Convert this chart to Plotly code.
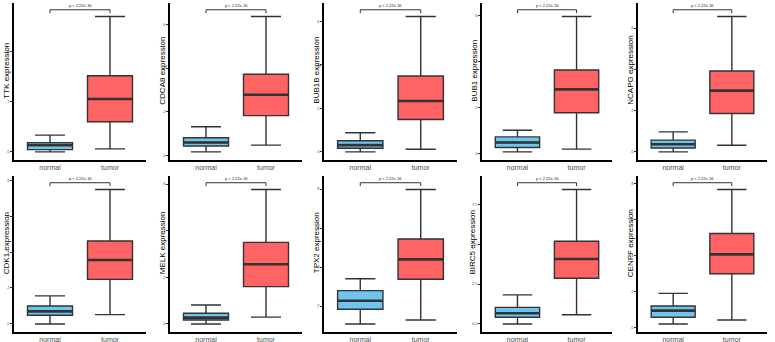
import plotly.graph_objects as go

genes = ["TTK", "CDCA8", "BUB1B", "BUB1", "NCAPG", "CDK1", "MELK", "TPX2", "BIRC5", "CENPF"]
groups = ["normal", "tumor"]

# per gene: [lowerfence, q1, median, q3, upperfence]
normal_stats = [
    [0.00, 0.09, 0.27, 0.37, 0.67],
    [0.15, 0.42, 0.58, 0.80, 1.31],
    [0.00, 0.17, 0.31, 0.51, 0.88],
    [0.07, 0.26, 0.48, 0.72, 1.01],
    [0.00, 0.19, 0.37, 0.57, 0.97],
    [0.00, 0.48, 0.70, 1.00, 1.56],
    [0.00, 0.17, 0.27, 0.46, 0.81],
    [1.08, 1.83, 2.27, 2.79, 3.40],
    [0.00, 0.42, 0.67, 1.04, 1.82],
    [0.19, 0.56, 0.93, 1.19, 1.89],
]
tumor_stats = [
    [0.12, 1.20, 2.11, 3.04, 5.40],
    [0.46, 1.82, 2.78, 3.72, 6.38],
    [0.12, 1.49, 2.34, 3.49, 6.23],
    [0.19, 1.77, 2.78, 3.62, 5.94],
    [0.32, 1.86, 2.97, 3.92, 6.56],
    [0.52, 2.48, 3.56, 4.61, 7.48],
    [0.29, 1.60, 2.56, 3.50, 5.77],
    [1.28, 3.37, 4.39, 5.44, 7.98],
    [0.58, 2.86, 4.07, 5.18, 8.43],
    [0.41, 2.98, 4.06, 5.22, 7.67],
]
tick_vals = [
    [0, 2, 4], [0, 2, 4, 6], [0, 2, 4, 6], [0, 2, 4, 6], [0, 2, 4, 6],
    [0, 2, 4, 6, 8], [0, 2, 4, 6], [2, 4, 6, 8], [0, 2.5, 5, 7.5], [0, 2, 4, 6, 8],
]
tick_text = [
    ["0", "2", "4"], ["0", "2", "4", "6"], ["0", "2", "4", "6"], ["0", "2", "4", "6"], ["0", "2", "4", "6"],
    ["0", "2", "4", "6", "8"], ["0", "2", "4", "6"], ["2", "4", "6", "8"], ["0.0", "2.5", "5.0", "7.5"], ["0", "2", "4", "6", "8"],
]
p_label = "p < 2.22e-16"

colors = ["#6EC6F0", "#FF6363"]
line_col = "#333333"

W, H = 775, 342
col_px = [(14, 146), (170, 302), (324, 457), (482, 612), (638, 767)]
row_px = [(3, 160), (176, 332)]

fig = go.Figure()
shapes = []
annotations = []

for i, g in enumerate(genes):
    r, c = divmod(i, 5)
    n = i + 1
    xa = "x" if n == 1 else f"x{n}"
    ya = "y" if n == 1 else f"y{n}"
    for j, (grp, st) in enumerate(zip(groups, [normal_stats[i], tumor_stats[i]])):
        lo, q1, med, q3, hi = st
        fig.add_trace(go.Box(
            x=[grp], q1=[q1], median=[med], q3=[q3], lowerfence=[lo], upperfence=[hi],
            xaxis=xa, yaxis=ya, fillcolor=colors[j], line=dict(color=line_col, width=1.4),
            width=0.75, whiskerwidth=0.667, boxpoints=False, showlegend=False, hoverinfo="skip",
        ))
        # thicker median line
        shapes.append(dict(type="line", xref=xa, yref=ya, x0=j - 0.375, x1=j + 0.375, y0=med, y1=med,
                           line=dict(color=line_col, width=2.6)))
    allv = normal_stats[i] + tumor_stats[i]
    mn, mx = min(allv), max(allv)
    rng = mx - mn
    top = mx + 0.05 * rng
    leg = mx + 0.025 * rng
    shapes.append(dict(type="line", xref=xa, yref=ya, x0=0, x1=0, y0=leg, y1=top, line=dict(color=line_col, width=1)))
    shapes.append(dict(type="line", xref=xa, yref=ya, x0=0, x1=1, y0=top, y1=top, line=dict(color=line_col, width=1)))
    shapes.append(dict(type="line", xref=xa, yref=ya, x0=1, x1=1, y0=leg, y1=top, line=dict(color=line_col, width=1)))
    annotations.append(dict(xref=xa, yref=ya, x=0.5, y=top + 0.008 * rng, text=p_label, showarrow=False,
                            yanchor="bottom", xanchor="center", font=dict(size=4, color="#222222"),
                            borderpad=0))
    x0, x1 = col_px[c]
    y0, y1 = row_px[r]
    # y-axis title (placed a little above the panel centre, as in the reference)
    maxlen = max(len(t) for t in tick_text[i])
    annotations.append(dict(xref="paper", yref="paper", x=x0 / W, y=1 - ((y0 + y1) / 2 - 11) / H,
                            xanchor="right", yanchor="middle", xshift=-(1 + 1.3 * maxlen),
                            textangle=-90, text=f"{g} expression", showarrow=False, borderpad=0,
                            font=dict(size=8, color="black")))
    xkey = "xaxis" if n == 1 else f"xaxis{n}"
    ykey = "yaxis" if n == 1 else f"yaxis{n}"
    fig.update_layout(**{
        xkey: dict(domain=[x0 / W, x1 / W], anchor=ya, range=[-0.6, 1.6], type="category",
                   categoryorder="array", categoryarray=groups, automargin=False,
                   showline=True, linecolor="black", linewidth=1.5, showgrid=False, zeroline=False,
                   ticks="", tickfont=dict(size=7, color="#4D4D4D")),
        ykey: dict(domain=[1 - y1 / H, 1 - y0 / H], anchor=xa, range=[mn - 0.06 * rng, mx + 0.1 * rng],
                   automargin=False,
                   showline=True, linecolor="black", linewidth=1.5, showgrid=False, zeroline=False,
                   ticks="outside", ticklen=2, tickcolor="#333333", tickwidth=1,
                   tickvals=tick_vals[i], ticktext=tick_text[i],
                   tickfont=dict(size=4, color="#4D4D4D")),
    })

fig.update_layout(
    template="none",
    width=W, height=H, margin=dict(l=0, r=0, t=0, b=0, autoexpand=False),
    paper_bgcolor="white", plot_bgcolor="white",
    font=dict(family="Liberation Sans, Arial, sans-serif"),
    shapes=shapes, annotations=annotations,
)
fig.write_html("out.html", config={"displayModeBar": False},
               post_script="document.body.style.margin='0';document.body.style.overflow='hidden';")
